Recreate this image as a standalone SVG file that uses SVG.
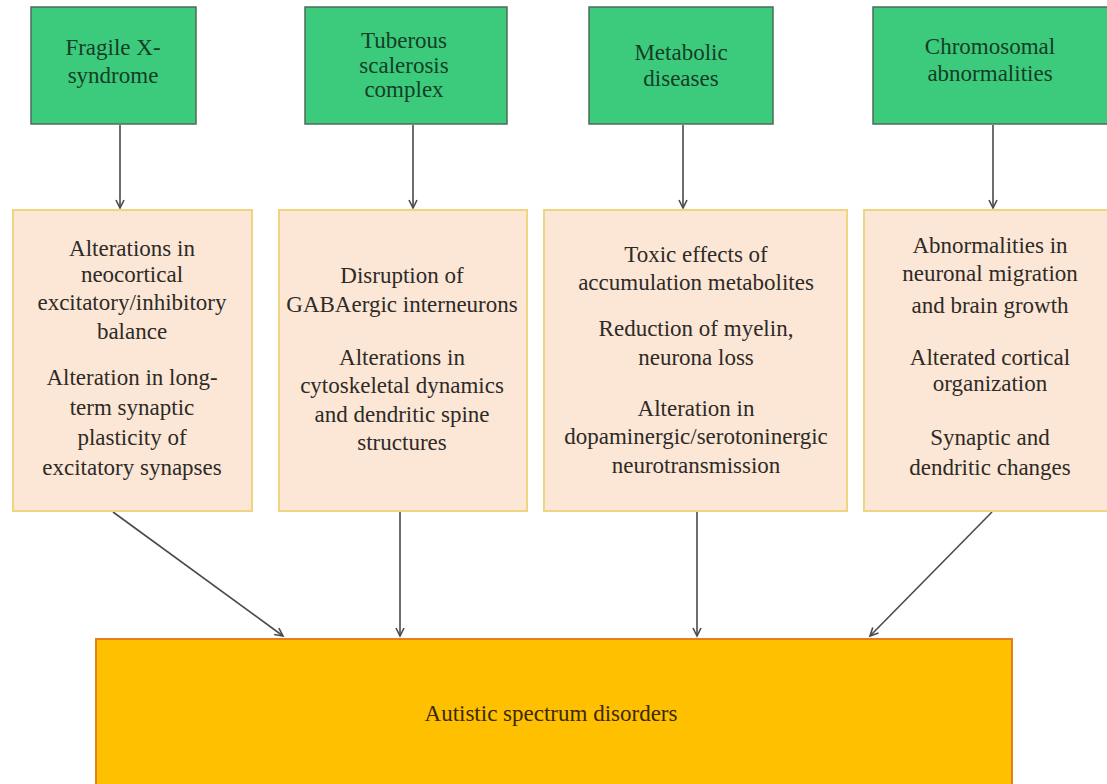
<svg xmlns="http://www.w3.org/2000/svg" width="1107" height="784" viewBox="0 0 1107 784">
<style>
.g{fill:#3ccb7d;stroke:#4d6b5a;stroke-width:1.5}
.b{fill:#fce7d6;stroke:#efd582;stroke-width:2}
.o{fill:#ffc000;stroke:#e2801e;stroke-width:2}
text{font-family:"Liberation Serif","Times New Roman",serif;font-size:23px;text-anchor:middle}
.gt{fill:#143d26}
.bt{fill:#2e2a26}
.ot{fill:#3b2a05;font-size:23px}
.c{stroke:#4a4a4a;stroke-width:1.6;fill:none;marker-end:url(#ah)}
</style>
<defs>
<marker id="ah" markerUnits="userSpaceOnUse" markerWidth="12" markerHeight="12" refX="9" refY="5" orient="auto" viewBox="0 0 12 10">
<path d="M1,1 L9,5 L1,9" fill="none" stroke="#4a4a4a" stroke-width="1.6"/>
</marker>
</defs>
<rect width="1107" height="784" fill="#ffffff"/>
<g id="connectors">
<line class="c" x1="120" y1="125" x2="120" y2="208"/>
<line class="c" x1="413" y1="125" x2="413" y2="208"/>
<line class="c" x1="683" y1="125" x2="683" y2="208"/>
<line class="c" x1="993" y1="125" x2="993" y2="208"/>
<line class="c" x1="113" y1="512" x2="283" y2="636"/>
<line class="c" x1="400" y1="512" x2="400" y2="636"/>
<line class="c" x1="697" y1="512" x2="697" y2="636"/>
<line class="c" x1="992" y1="512" x2="870" y2="636"/>
</g>
<g id="fragile">
<rect class="g" x="31" y="7" width="165" height="117"/>
<text class="gt" x="113" y="55">Fragile X-</text>
<text class="gt" x="113" y="83">syndrome</text>
</g>
<g id="tuberous">
<rect class="g" x="305" y="7" width="202" height="117"/>
<text class="gt" x="404" y="48">Tuberous</text>
<text class="gt" x="404" y="73">scalerosis</text>
<text class="gt" x="404" y="97">complex</text>
</g>
<g id="metabolic">
<rect class="g" x="589" y="7" width="184" height="117"/>
<text class="gt" x="681" y="60">Metabolic</text>
<text class="gt" x="681" y="86">diseases</text>
</g>
<g id="chromosomal">
<rect class="g" x="873" y="7" width="240" height="117"/>
<text class="gt" x="990" y="54">Chromosomal</text>
<text class="gt" x="990" y="81">abnormalities</text>
</g>
<g id="effects1">
<rect class="b" x="13" y="210" width="239" height="301"/>
<text class="bt" x="132" y="256">Alterations in</text>
<text class="bt" x="132" y="282">neocortical</text>
<text class="bt" x="132" y="310">excitatory/inhibitory</text>
<text class="bt" x="132" y="339">balance</text>
<text class="bt" x="132" y="385">Alteration in long-</text>
<text class="bt" x="132" y="415">term synaptic</text>
<text class="bt" x="132" y="445">plasticity of</text>
<text class="bt" x="132" y="475">excitatory synapses</text>
</g>
<g id="effects2">
<rect class="b" x="279" y="210" width="248" height="301"/>
<text class="bt" x="402" y="283">Disruption of</text>
<text class="bt" x="402" y="312">GABAergic interneurons</text>
<text class="bt" x="402" y="365">Alterations in</text>
<text class="bt" x="402" y="393">cytoskeletal dynamics</text>
<text class="bt" x="402" y="422">and dendritic spine</text>
<text class="bt" x="402" y="450">structures</text>
</g>
<g id="effects3">
<rect class="b" x="544" y="210" width="303" height="301"/>
<text class="bt" x="696" y="262">Toxic effects of</text>
<text class="bt" x="696" y="290">accumulation metabolites</text>
<text class="bt" x="696" y="336">Reduction of myelin,</text>
<text class="bt" x="696" y="365">neurona loss</text>
<text class="bt" x="696" y="416">Alteration in</text>
<text class="bt" x="696" y="444">dopaminergic/serotoninergic</text>
<text class="bt" x="696" y="473">neurotransmission</text>
</g>
<g id="effects4">
<rect class="b" x="864" y="210" width="250" height="301"/>
<text class="bt" x="990" y="253">Abnormalities in</text>
<text class="bt" x="990" y="281">neuronal migration</text>
<text class="bt" x="990" y="313">and brain growth</text>
<text class="bt" x="990" y="365">Alterated cortical</text>
<text class="bt" x="990" y="391">organization</text>
<text class="bt" x="990" y="445">Synaptic and</text>
<text class="bt" x="990" y="475">dendritic changes</text>
</g>
<g id="asd">
<rect class="o" x="96" y="639" width="916" height="155"/>
<text class="ot" x="551" y="721">Autistic spectrum disorders</text>
</g>
</svg>
